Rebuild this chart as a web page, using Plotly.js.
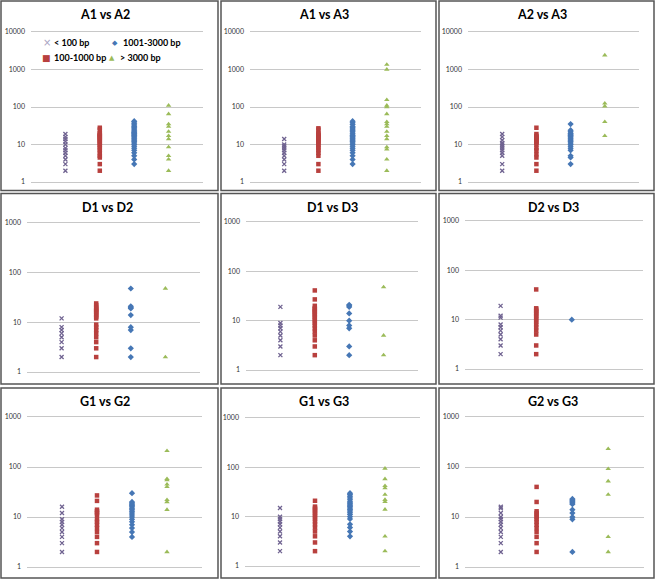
<!DOCTYPE html>
<html><head><meta charset="utf-8">
<script src="https://cdn.plot.ly/plotly-3.0.1.min.js"></script>
<style>html,body{margin:0;padding:0;background:#fff}#chart{width:656px;height:580px}</style>
</head><body><div id="chart"></div>
<script>
// ---- data ----
const seriesNames = ["< 100 bp", "100-1000 bp", "1001-3000 bp", "> 3000 bp"];
const panelTitles = ["A1 vs A2", "A1 vs A3", "A2 vs A3", "D1 vs D2", "D1 vs D3", "D2 vs D3", "G1 vs G2", "G1 vs G3", "G2 vs G3"];
const tickValsA = [1, 10, 100, 1000, 10000];
const tickValsDG = [1, 10, 100, 1000];

const a1a2_under100 = [2, 3, 4, 5, 6, 7, 8, 10, 12, 14, 16, 19];
const a1a2_100to1000 = [2, 3, 4.5, 5, 6, 7, 8, 9, 10, 11, 12, 13, 14, 15, 16, 17, 18, 19, 20, 25, 28];
const a1a2_1001to3000 = [3, 4, 5, 6, 7, 8, 9, 10, 11, 12, 13, 14, 15, 16, 17, 18, 19, 20, 21, 22, 24, 26, 28, 30, 33, 36, 40, 42];
const a1a2_over3000 = [2, 4, 5, 8.5, 14, 17, 22, 30, 35, 65, 110];

const a1a3_under100 = [2, 3, 4, 5, 6, 7, 8, 9, 10, 14];
const a1a3_100to1000 = [2, 3, 5, 6, 7, 8, 9, 10, 11, 12, 13, 14, 15, 16, 17, 18, 19, 20, 25, 27];
const a1a3_1001to3000 = [3, 4, 5, 6, 7, 8, 9, 10, 11, 12, 13, 14, 15, 16, 17, 18, 20, 22, 24, 26, 28, 30, 34, 38, 42];
const a1a3_over3000 = [2, 4, 7.5, 8.5, 14, 17, 22, 30, 35, 40, 65, 100, 110, 155, 1000, 1350];

const a2a3_under100 = [2, 3, 5, 6, 7, 8, 9, 10, 11, 13, 16, 19];
const a2a3_100to1000 = [2, 3, 4.5, 5.5, 7, 8, 10, 11, 12, 13, 14, 15, 16, 17, 19, 28];
const a2a3_1001to3000 = [3, 4.5, 5, 7, 8, 9, 10, 11, 12, 13, 14, 15, 16, 17, 18, 19, 20, 22, 24, 35];
const a2a3_over3000 = [17, 40, 105, 125, 2400];

const d1d2_under100 = [2, 3, 4, 5, 6, 7, 8, 12];
const d1d2_100to1000 = [2, 3, 4, 5, 6, 7, 8, 9, 12, 13, 14, 15, 16, 17, 18, 19, 20, 22, 24];
const d1d2_1001to3000 = [2, 3, 7, 8, 14, 19, 20, 21, 48];
const d1d2_over3000 = [2, 48];

const d1d3_under100 = [2, 3, 4, 5, 6, 7, 8, 9, 19];
const d1d3_100to1000 = [2, 3, 4, 5, 6, 7, 8, 9, 10, 11, 12, 13, 14, 15, 16, 17, 18, 20, 27, 41];
const d1d3_1001to3000 = [2, 3, 7, 8, 10, 14, 19, 20, 21];
const d1d3_over3000 = [2, 5, 48];

const d2d3_under100 = [2, 3, 4, 5, 6, 7, 8, 11, 12, 19];
const d2d3_100to1000 = [2, 3, 5, 6, 7, 8, 9, 10, 11, 12, 13, 14, 15, 16, 17, 41];
const d2d3_1001to3000 = [10];
const d2d3_over3000 = [];

const g1g2_under100 = [2, 3, 4, 5, 6, 7, 8, 9, 12, 16];
const g1g2_100to1000 = [2, 3, 4, 5, 6, 7, 8, 9, 11, 12, 13, 14, 21, 27];
const g1g2_1001to3000 = [4, 5, 6, 7, 8, 9, 10, 11, 12, 13, 14, 15, 16, 17, 18, 19, 20, 30];
const g1g2_over3000 = [2, 14, 20, 22, 40, 45, 55, 58, 210];

const g1g3_under100 = [2, 3, 4, 5, 6, 7, 8, 9, 10, 15];
const g1g3_100to1000 = [2, 3, 4, 5, 6, 7, 8, 9, 10, 11, 12, 13, 14, 15, 16, 21];
const g1g3_1001to3000 = [4, 5, 6, 7, 9, 10, 11, 12, 13, 14, 15, 16, 17, 18, 19, 20, 22, 24, 26, 28, 30];
const g1g3_over3000 = [2, 4, 14, 20, 22, 28, 38, 42, 58, 95];

const g2g3_under100 = [2, 3, 4, 5, 6, 7, 8, 9, 10, 12, 15, 16];
const g2g3_100to1000 = [2, 3, 4, 5, 6, 7, 8, 9, 10, 11, 12, 13, 20, 40];
const g2g3_1001to3000 = [2, 9, 10, 12, 14, 18, 19, 20, 21, 22, 23];
const g2g3_over3000 = [2, 4, 28, 52, 92, 230];

const panelData = [
  [a1a2_under100, a1a2_100to1000, a1a2_1001to3000, a1a2_over3000],
  [a1a3_under100, a1a3_100to1000, a1a3_1001to3000, a1a3_over3000],
  [a2a3_under100, a2a3_100to1000, a2a3_1001to3000, a2a3_over3000],
  [d1d2_under100, d1d2_100to1000, d1d2_1001to3000, d1d2_over3000],
  [d1d3_under100, d1d3_100to1000, d1d3_1001to3000, d1d3_over3000],
  [d2d3_under100, d2d3_100to1000, d2d3_1001to3000, d2d3_over3000],
  [g1g2_under100, g1g2_100to1000, g1g2_1001to3000, g1g2_over3000],
  [g1g3_under100, g1g3_100to1000, g1g3_1001to3000, g1g3_over3000],
  [g2g3_under100, g2g3_100to1000, g2g3_1001to3000, g2g3_over3000]
];

// ---- styling / geometry ----
const W = 656, H = 580;
const colors = ["#6F6290", "#B8403E", "#4677B5", "#9BBB59"];
const markers = [
  {symbol: "x-thin-open", size: 4, line: {width: 1.3, color: colors[0]}, color: colors[0]},
  {symbol: "square", size: 4.5, color: colors[1]},
  {symbol: "diamond", size: 4.8, color: colors[2]},
  {symbol: "triangle-up", size: 4.8, color: colors[3]}
];
const geom = [
  {x0: 31, x1: 203, yt: 32, yb: 182, tx: 105, ty: 15, box: [1, 1, 218, 190.5]},
  {x0: 250, x1: 421, yt: 32, yb: 182, tx: 324, ty: 15, box: [221, 1, 436, 190.5]},
  {x0: 468, x1: 639, yt: 32, yb: 182, tx: 542, ty: 15, box: [439, 1, 654, 190.5]},
  {x0: 27, x1: 200, yt: 223, yb: 372, tx: 107, ty: 207, box: [1, 193.5, 218, 384]},
  {x0: 246, x1: 418, yt: 222, yb: 370, tx: 333, ty: 207, box: [221, 193.5, 436, 384]},
  {x0: 465, x1: 643, yt: 221, yb: 369, tx: 553, ty: 207, box: [439, 193.5, 654, 384]},
  {x0: 27, x1: 202, yt: 417, yb: 567, tx: 105, ty: 401, box: [1, 388, 218, 578]},
  {x0: 245, x1: 420, yt: 418, yb: 566, tx: 324, ty: 401, box: [221, 388, 436, 578]},
  {x0: 465, x1: 644, yt: 417, yb: 567, tx: 553, ty: 401, box: [439, 388, 654, 578]}
];

const px = v => v / W;
const py = v => 1 - v / H;

const traces = [];
const layout = {
  width: W, height: H,
  margin: {l: 0, r: 0, t: 0, b: 0},
  paper_bgcolor: "#fff", plot_bgcolor: "#fff",
  showlegend: false,
  font: {family: "Lato, 'Liberation Sans', sans-serif", color: "#000"},
  shapes: [], annotations: []
};

geom.forEach((g, i) => {
  const n = i + 1;
  const xa = "xaxis" + (n === 1 ? "" : n), ya = "yaxis" + (n === 1 ? "" : n);
  const xr = "x" + (n === 1 ? "" : n), yr = "y" + (n === 1 ? "" : n);
  const tv = i < 3 ? tickValsA : tickValsDG;
  layout[xa] = {
    domain: [px(g.x0), px(g.x1)], range: [0, 5], anchor: yr,
    showgrid: false, zeroline: false, showticklabels: false, ticks: "",
    showline: true, mirror: true, linecolor: "#C8C8C8", linewidth: 1, fixedrange: true
  };
  layout[ya] = {
    domain: [py(g.yb), py(g.yt)], type: "log", range: [0, Math.log10(tv[tv.length - 1])], anchor: xr,
    tickmode: "array", tickvals: tv, ticktext: tv.map(String),
    showgrid: true, gridcolor: "#C8C8C8", gridwidth: 1, zeroline: false,
    showline: false, ticks: "", ticklabelstandoff: 5,
    tickfont: {size: 7, color: "#333", family: "Lato, 'Liberation Sans', sans-serif"}, fixedrange: true
  };
  panelData[i].forEach((vals, k) => {
    traces.push({
      type: "scatter", mode: "markers",
      x: vals.map(() => k + 1), y: vals,
      xaxis: xr, yaxis: yr, name: seriesNames[k],
      marker: markers[k], hoverinfo: "y", cliponaxis: false
    });
  });
  const b = g.box;
  layout.shapes.push({
    type: "rect", xref: "paper", yref: "paper",
    x0: px(b[0]), x1: px(b[2]), y0: py(b[3]), y1: py(b[1]),
    line: {color: "#555", width: 1.5}, fillcolor: "rgba(0,0,0,0)"
  });
  layout.annotations.push({
    xref: "paper", yref: "paper", x: px(g.tx), y: py(g.ty),
    xanchor: "center", yanchor: "middle", showarrow: false,
    text: "<b>" + panelTitles[i] + "</b>",
    font: {size: 12.5, color: "#000", family: "Lato, 'Liberation Sans', sans-serif"}
  });
});

// legend (first panel)
const legendItems = [
  {glyph: "×", gx: 47, tx: 52, y: 43, gsize: 10, k: 0},
  {glyph: "◆", gx: 115, tx: 121, y: 43, gsize: 7, k: 2},
  {glyph: "■", gx: 46, tx: 52, y: 58, gsize: 9, k: 1},
  {glyph: "▲", gx: 112, tx: 118, y: 58, gsize: 7, k: 3}
];
legendItems.forEach(it => {
  layout.annotations.push({
    xref: "paper", yref: "paper", x: px(it.gx), y: py(it.y),
    xanchor: "center", yanchor: "middle", showarrow: false, text: it.glyph,
    font: {size: it.gsize, color: it.k === 0 ? "#A8A3C2" : colors[it.k], family: "'DejaVu Sans', sans-serif"}
  });
  layout.annotations.push({
    xref: "paper", yref: "paper", x: px(it.tx), y: py(it.y),
    xanchor: "left", yanchor: "middle", showarrow: false,
    text: "<b>" + seriesNames[it.k].replace("<", "&lt;").replace(">", "&gt;") + "</b>",
    font: {size: 9, color: "#000", family: "Lato, 'Liberation Sans', sans-serif"}
  });
});

Plotly.newPlot("chart", traces, layout, {displayModeBar: false, staticPlot: true});
</script></body></html>
